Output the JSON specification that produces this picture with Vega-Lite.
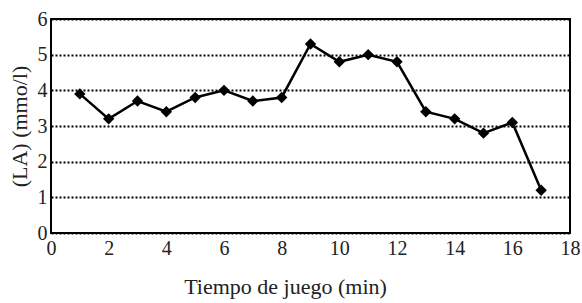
{
  "$schema": "https://vega.github.io/schema/vega-lite/v6.json",
  "autosize": "none",
  "width": 519,
  "height": 214,
  "padding": {"left": 51, "top": 19, "right": 12, "bottom": 70},
  "background": "white",
  "data": {"values": [
    {"t": 1, "la": 3.9}, {"t": 2, "la": 3.2}, {"t": 3, "la": 3.7}, {"t": 4, "la": 3.4},
    {"t": 5, "la": 3.8}, {"t": 6, "la": 4.0}, {"t": 7, "la": 3.7}, {"t": 8, "la": 3.8},
    {"t": 9, "la": 5.3}, {"t": 10, "la": 4.8}, {"t": 11, "la": 5.0}, {"t": 12, "la": 4.8},
    {"t": 13, "la": 3.4}, {"t": 14, "la": 3.2}, {"t": 15, "la": 2.8}, {"t": 16, "la": 3.1},
    {"t": 17, "la": 1.2}
  ]},
  "config": {
    "view": {"stroke": "black", "strokeWidth": 2},
    "font": "Liberation Serif",
    "axis": {
      "labelFont": "Liberation Serif", "titleFont": "Liberation Serif",
      "labelFontSize": 20, "titleFontSize": 22, "titleFontWeight": "normal",
      "labelColor": "#222", "titleColor": "#222",
      "ticks": false, "domain": false
    }
  },
  "mark": {"type": "line", "color": "black", "strokeWidth": 2.5, "point": {"shape": "diamond", "size": 130, "filled": true, "color": "black", "opacity": 1}},
  "encoding": {
    "x": {"field": "t", "type": "quantitative", "scale": {"domain": [0, 18], "nice": false},
      "axis": {"values": [0, 2, 4, 6, 8, 10, 12, 14, 16, 18], "grid": false, "labelPadding": 5, "title": "Tiempo de juego (min)", "titlePadding": 18, "titleX": 234, "titleAlign": "center", "labelFlush": false}},
    "y": {"field": "la", "type": "quantitative", "scale": {"domain": [0, 6], "nice": false},
      "axis": {"values": [0, 1, 2, 3, 4, 5, 6], "grid": true, "gridColor": "black", "gridDash": [2, 2], "gridWidth": 2, "labelPadding": 4, "title": "(LA) (mmo/l)", "titlePadding": 6, "labelFlush": false}}
  }
}
